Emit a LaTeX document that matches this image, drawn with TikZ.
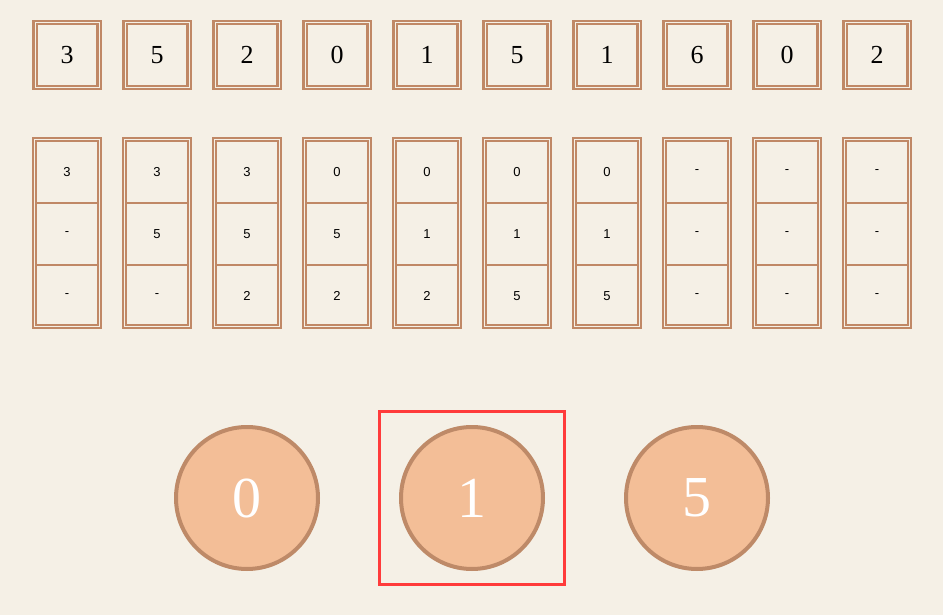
\documentclass[tikz,border=0pt]{standalone}
\usepackage{fontspec}
\setmainfont{Liberation Serif}
\newfontfamily\cellfont{Liberation Sans}
\usetikzlibrary{calc}
\definecolor{paper}{HTML}{F5F0E6}
\definecolor{frame}{HTML}{C08866}
\definecolor{coin}{HTML}{F3BE97}
\definecolor{coinedge}{HTML}{BE8A68}
\definecolor{mark}{HTML}{FF3B3B}
\tikzset{>=stealth,
  numbox/.style={draw=frame, line width=2.4pt, double=paper, double distance=1pt,
    minimum width=64pt, minimum height=65pt, inner sep=0pt, font=\fontsize{26}{26}\selectfont},
  colbox/.style={draw=frame, line width=2.4pt, double=paper, double distance=1pt,
    minimum width=65pt, minimum height=187pt, inner sep=0pt},
  cellbox/.style={minimum width=60pt, minimum height=62pt, inner sep=0pt,
    font=\cellfont\fontsize{13}{13}\selectfont},
  divline/.style={frame, line width=2pt},
  bucket/.style={circle, draw=coinedge, line width=4pt, fill=coin, minimum size=142pt,
    inner sep=0pt, text=white, font=\fontsize{58}{58}\selectfont},
  pick/.style={draw=mark, line width=3pt, minimum width=185pt, minimum height=173pt, inner sep=0pt}
}

\begin{document}
\begin{tikzpicture}[x=1pt,y=-1pt]
    \fill[paper] (0,0) rectangle (943,615);
    \useasboundingbox (0,0) rectangle (943,615);
    % input array
    \foreach \v [count=\i] in {3,5,2,0,1,5,1,6,0,2}
      \node[numbox] (in\i) at ({67+90*(\i-1)},55) {\v};
    % window after each step
    \foreach \a/\b/\c [count=\i] in {3/-/-,3/5/-,3/5/2,0/5/2,0/1/2,0/1/5,0/1/5,-/-/-,-/-/-,-/-/-} {
      \node[colbox] (col\i) at ({67+90*(\i-1)},233) {};
      \node[cellbox] (cell\i-1) at ({67+90*(\i-1)},172) {\a};
      \node[cellbox] (cell\i-2) at ({67+90*(\i-1)},234) {\b};
      \node[cellbox] (cell\i-3) at ({67+90*(\i-1)},296) {\c};
      \draw[divline] ($(col\i.west |- cell\i-1.south)+(2.9pt,0)$) -- ($(col\i.east |- cell\i-1.south)-(2.9pt,0)$);
      \draw[divline] ($(col\i.west |- cell\i-2.south)+(2.9pt,0)$) -- ($(col\i.east |- cell\i-2.south)-(2.9pt,0)$);
    }
    % kept values
    \node[bucket] (b0) at (247,498) {0};
    \node[bucket] (b1) at (472,498) {1};
    \node[bucket] (b5) at (697,498) {5};
    \node[pick] (sel) at (471.5,498) {};
\end{tikzpicture}
\end{document}
